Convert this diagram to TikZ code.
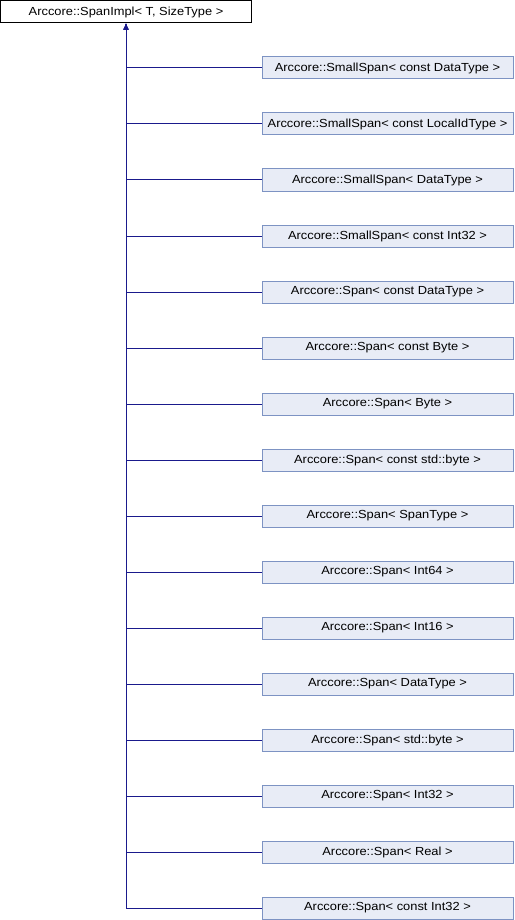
\documentclass[tikz,border=0pt]{standalone}
\usepackage{fontspec}
\setmainfont{Liberation Sans}[FakeStretch=1.1]
\usetikzlibrary{arrows.meta}
\definecolor{boxfill}{HTML}{E8ECF6}
\definecolor{boxline}{HTML}{7D93C3}
\definecolor{edgeblue}{HTML}{1A1A8C}
\begin{document}
\begin{tikzpicture}[x=1pt, y=-1pt]
            \useasboundingbox (0,0) rectangle (514,920);
            \begin{scope}[every node/.style={draw=boxline, fill=boxfill, line width=1pt, minimum width=251pt, minimum height=22pt, inner sep=0pt, font=\fontsize{11.7}{13}\selectfont}]
                \node[draw=black, fill=white] (0) at (126,12) {Arccore::SpanImpl< T, SizeType >};
                \node (1) at (387.5,68) {Arccore::SmallSpan< const DataType >};
                \node (2) at (387.5,124) {Arccore::SmallSpan< const LocalIdType >};
                \node (3) at (387.5,180) {Arccore::SmallSpan< DataType >};
                \node (4) at (387.5,236) {Arccore::SmallSpan< const Int32 >};
                \node (5) at (387.5,292) {Arccore::Span< const DataType >};
                \node (6) at (387.5,348) {Arccore::Span< const Byte >};
                \node (7) at (387.5,404) {Arccore::Span< Byte >};
                \node (8) at (387.5,460) {Arccore::Span< const std::byte >};
                \node (9) at (387.5,516) {Arccore::Span< SpanType >};
                \node (10) at (387.5,572) {Arccore::Span< Int64 >};
                \node (11) at (387.5,628) {Arccore::Span< Int16 >};
                \node (12) at (387.5,684) {Arccore::Span< DataType >};
                \node (13) at (387.5,740) {Arccore::Span< std::byte >};
                \node (14) at (387.5,796) {Arccore::Span< Int32 >};
                \node (15) at (387.5,852) {Arccore::Span< Real >};
                \node (16) at (387.5,908) {Arccore::Span< const Int32 >};
            \end{scope}

            \begin{scope}[every path/.style={draw=edgeblue, line width=1pt, -{Latex[length=6pt, width=5pt]}}]
                \path (1.west) -| (0.south);
                \path (2.west) -| (0.south);
                \path (3.west) -| (0.south);
                \path (4.west) -| (0.south);
                \path (5.west) -| (0.south);
                \path (6.west) -| (0.south);
                \path (7.west) -| (0.south);
                \path (8.west) -| (0.south);
                \path (9.west) -| (0.south);
                \path (10.west) -| (0.south);
                \path (11.west) -| (0.south);
                \path (12.west) -| (0.south);
                \path (13.west) -| (0.south);
                \path (14.west) -| (0.south);
                \path (15.west) -| (0.south);
                \path (16.west) -| (0.south);
            \end{scope}
        \end{tikzpicture}
\end{document}
